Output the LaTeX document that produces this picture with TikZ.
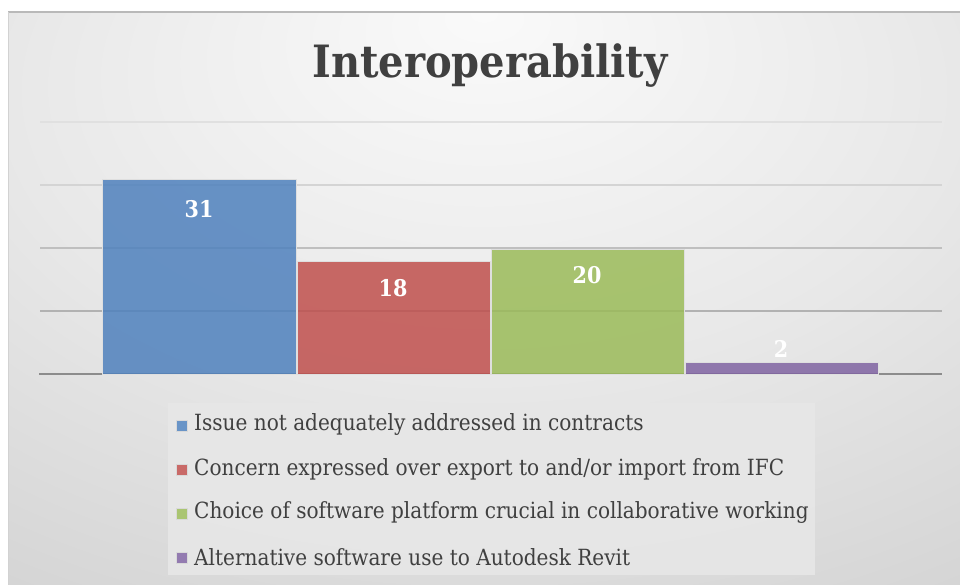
\documentclass[tikz,border=0pt]{standalone}
\usepackage{fontspec}
\setmainfont{DejaVu Serif Condensed}
\definecolor{titlegray}{HTML}{404040}
\definecolor{barblue}{HTML}{4F81BD}
\definecolor{barred}{HTML}{C0504D}
\definecolor{bargreen}{HTML}{9BBB59}
\definecolor{barpurple}{HTML}{8064A2}
\definecolor{bgA}{HTML}{FAFAFA}
\definecolor{bgB}{HTML}{E8E8E8}
\definecolor{bgC}{HTML}{CECECE}
\definecolor{bgD}{HTML}{BABABA}
\definecolor{legendbg}{HTML}{E7E7E7}
\pgfdeclareradialshading{chartbg}{\pgfpoint{0bp}{25bp}}{%
  color(0bp)=(bgA); color(25bp)=(bgB); color(52bp)=(bgC); color(88bp)=(bgD)}
\tikzset{
  bar/.style={draw=white!75!gray, line width=0.8pt, fill opacity=0.85},
  gridline/.style={line width=1.6pt},
  barlabel/.style={text=white, font=\fontsize{23}{26}\selectfont\bfseries, inner sep=0pt},
  legendkey/.style={minimum size=11pt, inner sep=0pt, draw=white!70!gray, line width=0.5pt},
  legendtext/.style={text=titlegray, font=\fontsize{22.3}{26}\selectfont, inner sep=0pt, anchor=west},
}
\begin{document}
\begin{tikzpicture}[x=1pt, y=-1pt]
  \useasboundingbox (0,0) rectangle (960,585);
  \fill[white] (0,0) rectangle (960,585);
  % chart area with soft radial background
  \path[shading=chartbg] (8,12) rectangle (960,585);
  \draw[line width=1.2pt, gray!55] (8,12) -- (960,12);
  \draw[line width=0.6pt, gray!35] (8,12) -- (8,585);
  % title
  \node[text=titlegray, font=\fontsize{44.5}{50}\selectfont\bfseries, inner sep=0pt] (title) at (490,66) {Interoperability};
  % horizontal gridlines
  \draw[gridline, black!12] (40,122) -- (942,122);
  \draw[gridline, black!17] (40,185) -- (942,185);
  \draw[gridline, black!25] (40,248) -- (942,248);
  \draw[gridline, black!30] (40,311) -- (942,311);
  \draw[gridline, black!45] (39,374) -- (942,374);
  % bars
  \filldraw[bar, fill=barblue] (102,179) rectangle (296,374);
  \filldraw[bar, fill=barred] (297,261) rectangle (490,374);
  \filldraw[bar, fill=bargreen] (491,249) rectangle (684,374);
  \filldraw[bar, fill=barpurple] (685,362) rectangle (878,374);
  % data labels
  \node[barlabel] (v1) at (199,209) {31};
  \node[barlabel] (v2) at (393,288) {18};
  \node[barlabel] (v3) at (587,275) {20};
  \node[barlabel] (v4) at (781,349) {2};
  % legend
  \fill[legendbg, opacity=0.9] (168,403) rectangle (815,575);
  \node[legendkey, fill=barblue!85] (k1) at (182,426) {};
  \node[legendkey, fill=barred!85] (k2) at (182,470) {};
  \node[legendkey, fill=bargreen!85] (k3) at (182,514) {};
  \node[legendkey, fill=barpurple!85] (k4) at (182,558) {};
  \node[legendtext] (t1) at (194,425) {Issue not adequately addressed in contracts};
  \node[legendtext] (t2) at (194,469) {Concern expressed over export to and/or import from IFC};
  \node[legendtext] (t3) at (194,513) {Choice of software platform crucial in collaborative working};
  \node[legendtext] (t4) at (194,557) {Alternative software use to Autodesk Revit};
\end{tikzpicture}
\end{document}
